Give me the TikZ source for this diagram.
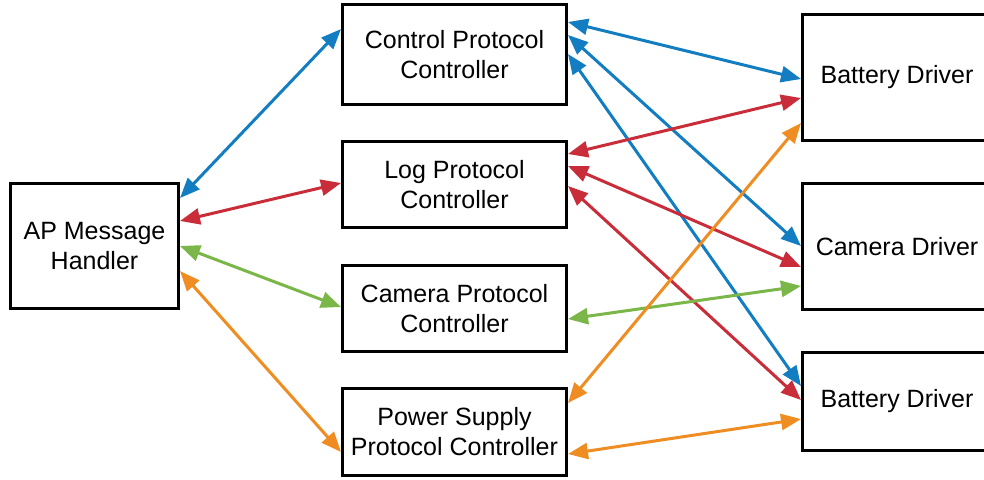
\documentclass[tikz,border=0pt]{standalone}
\usepackage{fontspec}
\setmainfont{Liberation Sans}
\usepackage{tikz}
\usetikzlibrary{arrows.meta,calc,positioning}

\definecolor{linkblue}{RGB}{18,125,192}
\definecolor{linkred}{RGB}{201,45,57}
\definecolor{linkgreen}{RGB}{122,182,72}
\definecolor{linkorange}{RGB}{239,141,34}

\newdimen\px
\px=0.5pt

\begin{document}
\begin{tikzpicture}[x=0.5pt,y=-0.5pt,
                    main node/.style={draw,line width=1.5pt,align=center,inner sep=0pt,
                                      font=\fontsize{12.5}{15}\selectfont,minimum width=112pt,minimum height=43pt},
                    link/.style={{Triangle[length=10pt,width=8pt]}-{Triangle[length=10pt,width=8pt]},line width=1.5pt}]
\useasboundingbox (0,0) rectangle (984,479);
\clip (0,0) rectangle (984,479);

\node[main node,minimum width=84pt,minimum height=62.5pt] (ap) at (94.5,246) {AP Message\\Handler};

\node[main node,minimum height=50pt] (ctrl) at (454.5,54.5) {Control Protocol\\Controller};
\node[main node] (log) at (454.5,184.5) {Log Protocol\\Controller};
\node[main node] (cam) at (454.5,308.5) {Camera Protocol\\Controller};
\node[main node,minimum height=43.5pt] (pwr) at (454.5,432) {Power Supply\\Protocol Controller};

\node[main node,minimum width=94.5pt,minimum height=63pt] (bat1) at (897,77.5) {Battery Driver};
\node[main node,minimum width=94.5pt,minimum height=63pt] (camd) at (897,246.5) {Camera Driver};
\node[main node,minimum width=94.5pt,minimum height=49pt] (bat2) at (897,401.5) {Battery Driver};

% east side of one box to west side of the next, offsets in pixels from the top
\foreach \col/\a/\da/\b/\db in {linkblue/ap/16/ctrl/26, linkblue/ctrl/19/bat1/66,
                                linkblue/ctrl/32/camd/64, linkblue/ctrl/51/bat2/35,
                                linkred/ap/39/log/43, linkred/log/14/bat1/85,
                                linkred/log/26/camd/85, linkred/log/46/bat2/49,
                                linkgreen/ap/64/cam/43, linkgreen/cam/55/camd/104,
                                linkorange/ap/89/pwr/65, linkorange/pwr/16/bat1/110,
                                linkorange/pwr/67/bat2/68}
   \draw[link,\col] ([yshift=-\da\px]\a.north east) -- ([yshift=-\db\px]\b.north west);

\end{tikzpicture}
\end{document}
